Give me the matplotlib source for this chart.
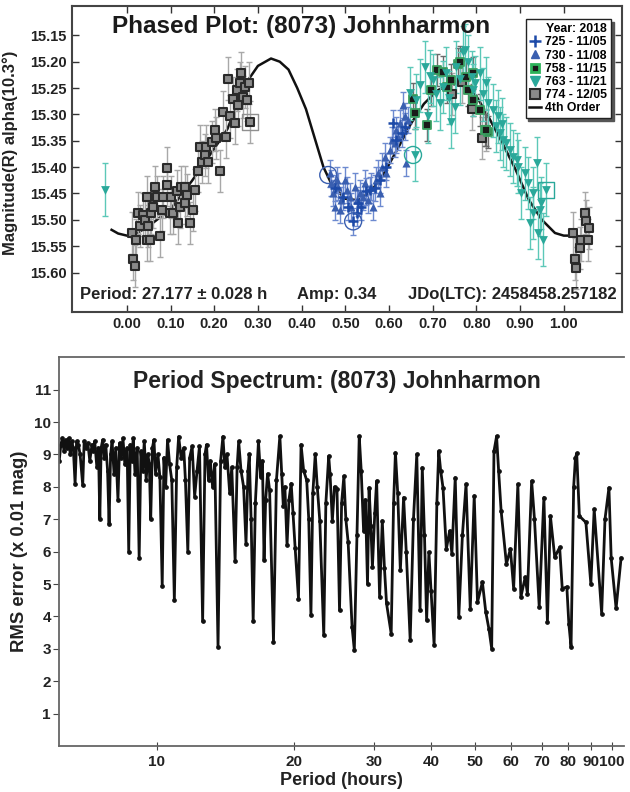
import numpy as np
import matplotlib
matplotlib.use('Agg')
import matplotlib.pyplot as plt
from matplotlib.lines import Line2D
from matplotlib.ticker import FixedLocator, NullLocator, FormatStrFormatter

plt.rcParams['font.family'] = ['Liberation Sans', 'DejaVu Sans']
plt.rcParams['font.weight'] = 'bold'

# ---- phased plot data (phase, magnitude) ----
ph_774 = [0.011, 0.015, 0.018, 0.022, 0.030, 0.026, 0.036, 0.041, 0.045, 0.053, 0.049, 0.056,
          0.060, 0.064, 0.045, 0.068, 0.076, 0.080, 0.083, 0.091, 0.091, 0.098, 0.102, 0.106,
          0.114, 0.118, 0.121, 0.125, 0.133, 0.133, 0.137, 0.144, 0.152, 0.156, 0.163, 0.167,
          0.171, 0.179, 0.182, 0.186, 0.194, 0.201, 0.205, 0.213, 0.220, 0.228, 0.236, 0.243,
          0.247, 0.251, 0.255, 0.259, 0.262, 0.266, 0.270, 0.274, 0.280, 0.282, 0.232,
          1.021, 1.025, 1.029, 1.037, 1.040, 1.048, 1.052, 1.059, 1.056,
          0.745, 0.768, 0.790, 0.812, 0.823]
mag_774 = [15.525, 15.575, 15.588, 15.538, 15.512, 15.487, 15.490, 15.500, 15.538, 15.538, 15.512, 15.487,
           15.475, 15.437, 15.456, 15.456, 15.531, 15.481, 15.456, 15.402, 15.434, 15.487, 15.456, 15.487,
           15.446, 15.506, 15.475, 15.437, 15.437, 15.468, 15.453, 15.506, 15.481, 15.443, 15.408, 15.361,
           15.390, 15.377, 15.361, 15.390, 15.352, 15.330, 15.345, 15.408, 15.295, 15.342, 15.304, 15.270,
           15.317, 15.254, 15.282, 15.241, 15.222, 15.267, 15.248, 15.273, 15.241, 15.314, 15.232,
           15.525, 15.575, 15.591, 15.553, 15.538, 15.487, 15.503, 15.515, 15.538,
           15.262, 15.238, 15.290, 15.345, 15.330]

ph_730 = [0.465, 0.468, 0.472, 0.476, 0.480, 0.484, 0.491, 0.487, 0.499, 0.503, 0.510, 0.514,
          0.522, 0.526, 0.533, 0.541, 0.545, 0.552, 0.560, 0.564, 0.571, 0.575, 0.579, 0.583,
          0.590, 0.594, 0.602, 0.606, 0.613, 0.617, 0.621, 0.625, 0.631, 0.636, 0.640, 0.644]
mag_730 = [15.412, 15.430, 15.449, 15.475, 15.424, 15.437, 15.462, 15.481, 15.424, 15.443, 15.456, 15.475,
           15.437, 15.462, 15.449, 15.456, 15.430, 15.462, 15.437, 15.475, 15.424, 15.412, 15.449, 15.399,
           15.380, 15.412, 15.367, 15.348, 15.355, 15.330, 15.342, 15.317, 15.282, 15.304, 15.392, 15.311]

ph_725 = [0.529, 0.537, 0.548, 0.556, 0.567, 0.579, 0.594, 0.609, 0.617, 0.629, 0.636,
          0.526, 0.506, 0.495, 0.476, 0.518]
mag_725 = [15.468, 15.475, 15.446, 15.443, 15.440, 15.424, 15.399, 15.317, 15.348, 15.336, 15.323,
           15.487, 15.475, 15.456, 15.440, 15.503]

ph_758 = [0.655, 0.659, 0.686, 0.709, 0.724, 0.732, 0.758, 0.762, 0.777, 0.781, 0.792, 0.808,
          0.819, 0.827, 0.792, 0.743, 0.697, 0.823]
mag_758 = [15.270, 15.298, 15.320, 15.216, 15.219, 15.248, 15.204, 15.200, 15.229, 15.254, 15.273, 15.292,
           15.330, 15.333, 15.222, 15.235, 15.254, 15.330]

ph_763 = [0.659, 0.682, 0.690, 0.716, 0.743, 0.751, 0.770, 0.773, 0.781, 0.792, 0.823, 0.827,
          0.850, 0.854, 0.869, 0.884, 0.895, 0.903, 0.922, 0.930, 0.938, 0.941, 0.949, 0.953,
          0.960, 0.648, 0.663, 0.701, 0.724, 0.754, 0.808, 0.789, 0.838, 0.876, 0.861, 0.911,
          0.945, 0.930, -0.050, 0.670, 0.694, 0.708, 0.730, 0.738, 0.762, 0.798, 0.815, 0.844,
          0.858, 0.892, 0.918]
mag_763 = [15.377, 15.210, 15.304, 15.279, 15.314, 15.286, 15.182, 15.178, 15.200, 15.254, 15.241, 15.279,
           15.304, 15.336, 15.355, 15.380, 15.399, 15.449, 15.506, 15.449, 15.393, 15.525, 15.468, 15.538,
           15.443, 15.260, 15.273, 15.235, 15.248, 15.210, 15.222, 15.229, 15.292, 15.367, 15.349, 15.412,
           15.481, 15.487, 15.443, 15.245, 15.228, 15.262, 15.222, 15.268, 15.232, 15.240, 15.262, 15.322,
           15.318, 15.386, 15.430]

err_774 = 0.040
err_730 = 0.025
err_725 = 0.025
err_758 = 0.030
err_763 = 0.050

circled_ph = [0.461, 0.518, 0.655]
circled_mag = [15.415, 15.503, 15.377]
circled_col = ['#3a5fb0', '#3a5fb0', '#2aa89a']
boxed_ph = [0.282, 0.960]
boxed_mag = [15.314, 15.443]
boxed_col = ['#909090', '#2aa89a']

# 4th order fit curve
fit_ph = [-0.035, -0.02, 0.00, 0.02, 0.05, 0.10, 0.15, 0.20, 0.23, 0.26, 0.28, 0.30, 0.33, 0.35,
          0.37, 0.39, 0.41, 0.43, 0.45, 0.47, 0.50, 0.53, 0.56, 0.59, 0.62, 0.65, 0.68, 0.71,
          0.74, 0.77, 0.80, 0.83, 0.86, 0.89, 0.92, 0.95, 0.98, 1.00, 1.03]
fit_mag = [15.519, 15.526, 15.530, 15.527, 15.512, 15.480, 15.425, 15.365, 15.328, 15.265, 15.232,
           15.208, 15.194, 15.200, 15.215, 15.250, 15.290, 15.345, 15.400, 15.435, 15.460, 15.463,
           15.445, 15.410, 15.365, 15.318, 15.280, 15.255, 15.242, 15.245, 15.265, 15.308, 15.355,
           15.405, 15.462, 15.500, 15.525, 15.530, 15.530]

# ---- period spectrum (hours, rms x0.01 mag) ----
period = [6.10, 6.15, 6.20, 6.25, 6.30, 6.35, 6.40, 6.45, 6.50, 6.55, 6.61, 6.66, 6.72, 6.78, 6.87,
          6.92, 7.00, 7.05, 7.12, 7.20, 7.25, 7.30, 7.38, 7.44, 7.49, 7.54, 7.60, 7.66, 7.72, 7.79,
          7.85, 7.91, 7.97, 8.05, 8.12, 8.21, 8.28, 8.35, 8.42, 8.50, 8.60, 8.67, 8.74, 8.80, 8.87,
          8.95, 9.05, 9.14, 9.22, 9.30, 9.38, 9.47, 9.55, 9.62, 9.69, 9.77, 9.85, 9.93, 10.05, 10.15,
          10.27, 10.36, 10.45, 10.55, 10.66, 10.78, 10.92, 11.05, 11.16, 11.30, 11.45, 11.55, 11.69,
          11.80, 11.95, 12.10, 12.25, 12.40, 12.60, 12.75, 12.85, 12.98, 13.10, 13.25, 13.40, 13.62,
          13.80, 13.96, 14.10, 14.25, 14.45, 14.60, 14.85, 15.00, 15.12, 15.30, 15.50, 15.69, 15.85,
          15.95, 16.10, 16.27, 16.45, 16.71, 16.90, 17.05, 17.19, 17.33, 17.50, 17.68, 18.03, 18.30,
          18.62, 18.80, 18.95, 19.10, 19.31, 19.50, 19.72, 19.90, 20.12, 20.46, 20.73, 21.00, 21.33,
          21.55, 21.79, 22.00, 22.27, 22.50, 22.79, 23.25, 23.50, 23.84, 24.00, 24.28, 24.55, 24.86,
          25.18, 25.45, 25.74, 26.00, 26.30, 26.83, 27.14, 27.50, 27.82, 28.10, 28.44, 28.70, 29.01,
          29.24, 29.50, 29.74, 30.10, 30.38, 30.84, 31.26, 31.60, 31.94, 32.70, 33.10, 33.41, 33.80,
          34.25, 34.82, 35.29, 36.00, 36.60, 37.22, 37.84, 38.27, 38.70, 39.12, 39.57, 40.00, 40.63,
          41.20, 41.59, 42.00, 42.50, 43.22, 43.95, 44.45, 45.21, 46.03, 46.88, 47.75, 48.78, 49.77,
          50.60, 51.87, 52.76, 53.63, 54.36, 55.00, 55.73, 56.30, 57.02, 58.57, 59.76, 60.75, 62.06,
          63.01, 64.40, 65.14, 66.54, 67.50, 69.14, 70.79, 72.07, 73.16, 74.78, 76.67, 77.68, 79.51,
          80.31, 81.22, 82.30, 83.04, 83.58, 84.71, 87.56, 89.77, 91.30, 94.82, 96.43, 98.37, 99.50,
          102.0, 104.6]
rms = [8.8, 9.3, 9.5, 9.1, 9.45, 9.2, 9.5, 9.0, 9.4, 9.2, 8.1, 9.4, 9.3, 9.0, 8.05,
       9.4, 9.2, 9.35, 8.8, 9.3, 9.1, 9.4, 8.6, 9.2, 7.0, 9.2, 9.45, 8.9, 9.3, 8.5,
       6.85, 9.0, 9.4, 8.4, 9.2, 7.6, 9.35, 8.9, 9.5, 8.7, 9.2, 6.0, 9.3, 8.8, 9.5,
       8.4, 9.2, 5.8, 9.1, 8.5, 9.4, 8.2, 9.0, 8.7, 7.0, 9.2, 9.45, 8.4, 9.0, 8.3,
       4.95, 8.9, 8.0, 9.45, 8.7, 8.2, 4.5, 8.6, 9.55, 8.9, 9.2, 8.2, 6.0,
       8.9, 9.25, 7.7, 8.5, 9.25, 3.85, 9.0, 9.3, 8.2, 8.8, 8.0, 8.7, 3.07,
       8.8, 9.55, 8.6, 9.0, 7.8, 8.6, 5.72, 8.6, 9.4, 8.5, 8.0, 6.25, 8.5,
       9.0, 7.0, 3.86, 7.5, 9.4, 8.3, 8.8, 5.75, 7.6, 8.4, 7.9, 3.22, 8.2,
       9.56, 8.4, 7.4, 8.0, 6.2, 7.6, 8.1, 7.2, 6.1, 4.55, 9.3, 8.5, 8.2,
       7.0, 4.04, 7.8, 9.0, 8.0, 6.95, 3.42, 7.5, 8.95, 8.4, 6.95, 8.0, 7.92,
       4.19, 7.5, 8.33, 7.0, 6.3, 3.68, 2.96, 6.5, 9.56, 8.5, 6.64, 7.6, 5.0,
       7.97, 6.8, 5.52, 7.2, 8.18, 4.6, 6.95, 5.5, 4.4, 3.47, 7.5, 9.05, 7.8,
       5.42, 7.67, 6.0, 3.27, 7.0, 9.0, 4.19, 8.59, 6.5, 3.88, 5.98, 4.8, 3.12,
       7.5, 9.1, 8.5, 7.97, 6.08, 6.64, 5.93, 8.28, 3.98, 6.5, 8.08, 4.24, 7.72,
       4.44, 5.06, 4.14, 3.6, 3.01, 9.1, 9.56, 8.5, 7.26, 5.62, 6.08, 4.86, 8.08,
       4.6, 5.21, 4.70, 8.18, 7.0, 4.29, 7.67, 3.83, 7.1, 5.83, 6.13, 4.86, 4.91,
       3.78, 3.06, 8.0, 8.89, 9.03, 7.1, 6.9, 5.0, 7.31, 4.09, 7.0, 7.97, 5.8,
       4.25, 5.8]

fig = plt.figure(figsize=(6.3, 7.92), dpi=100)

# ================= phased plot =================
ax1 = fig.add_axes([0.114, 0.606, 0.873, 0.386])
ax1.plot(fit_ph, fit_mag, color='#111111', lw=1.8, zorder=2)

ax1.errorbar(ph_774, mag_774, yerr=err_774, fmt='none', ecolor='#a8a8a8', elinewidth=1, capsize=2.5, zorder=3)
ax1.scatter(ph_774, mag_774, marker='s', s=34, c='#8a8a8a', edgecolors='#2a2a2a', linewidths=1.5, zorder=4)

ax1.errorbar(ph_730 + ph_725, mag_730 + mag_725, yerr=err_730, fmt='none', ecolor='#6d8ad0',
             elinewidth=1, capsize=2.5, zorder=3)
ax1.scatter(ph_730, mag_730, marker='^', s=34, c='#3a5fb0', linewidths=0, zorder=5)
ax1.scatter(ph_725, mag_725, marker='+', s=55, c='#1d4aa8', linewidths=1.8, zorder=5)

ax1.errorbar(ph_758, mag_758, yerr=err_758, fmt='none', ecolor='#6a6a6a', elinewidth=1, capsize=2.5, zorder=3)
ax1.scatter(ph_758, mag_758, marker='s', s=26, c='#1a1a1a', edgecolors='#3aa060', linewidths=1.3, zorder=5)

ax1.errorbar(ph_763, mag_763, yerr=err_763, fmt='none', ecolor='#5cc8b8', elinewidth=1, capsize=2.5, zorder=3)
ax1.scatter(ph_763, mag_763, marker='v', s=40, c='#2aa89a', linewidths=0, zorder=6)

ax1.scatter(circled_ph, circled_mag, marker='o', s=150, facecolors='none', edgecolors=circled_col,
            linewidths=1, zorder=6)
ax1.scatter(boxed_ph, boxed_mag, marker='s', s=130, facecolors='none', edgecolors=boxed_col,
            linewidths=1, zorder=6)

ax1.set_xlim(-0.126, 1.133)
ax1.set_ylim(15.675, 15.095)
ax1.set_xticks(np.arange(0, 1.001, 0.1))
ax1.set_yticks(np.arange(15.15, 15.601, 0.05))
ax1.xaxis.set_major_formatter(FormatStrFormatter('%.2f'))
ax1.yaxis.set_major_formatter(FormatStrFormatter('%.2f'))
ax1.tick_params(direction='in', length=5, width=1, top=True, right=True, labelsize=10.5,
                colors='#333333', labelcolor='#222222')
for sp in ax1.spines.values():
    sp.set_color('#444444')
    sp.set_linewidth(1.5)
ax1.set_ylabel('Magnitude(R) alpha(10.3°)', fontsize=12, fontweight='bold', color='#222222', labelpad=2)
ax1.yaxis.set_label_coords(-0.098, 0.52)

ax1.text(0.416, 0.935, 'Phased Plot: (8073) Johnharmon', transform=ax1.transAxes, ha='center', va='center',
         fontsize=17.5, fontweight='bold', color='#1a1a1a')
ax1.text(0.015, 0.056, 'Period: 27.177 ± 0.028 h', transform=ax1.transAxes, ha='left', va='center',
         fontsize=12, fontweight='bold', color='#222222')
ax1.text(0.409, 0.056, 'Amp: 0.34', transform=ax1.transAxes, ha='left', va='center',
         fontsize=12, fontweight='bold', color='#222222')
ax1.text(0.991, 0.056, 'JDo(LTC): 2458458.257182', transform=ax1.transAxes, ha='right', va='center',
         fontsize=12, fontweight='bold', color='#222222')

handles = [
    Line2D([], [], marker='+', ls='none', color='#1d4aa8', ms=8, mew=1.8),
    Line2D([], [], marker='^', ls='none', color='#3a5fb0', ms=6),
    Line2D([], [], marker='s', ls='none', mfc='#1a1a1a', mec='#2db35a', ms=6, mew=2),
    Line2D([], [], marker='v', ls='none', color='#2aa89a', ms=6.5),
    Line2D([], [], marker='s', ls='none', mfc='#8a8a8a', mec='#2a2a2a', ms=6.5, mew=1.5),
    Line2D([], [], color='#111111', lw=1.8),
]
labels = ['725 - 11/05', '730 - 11/08', '758 - 11/15', '763 - 11/21', '774 - 12/05', '4th Order']
leg = ax1.legend(handles, labels, title='Year: 2018', loc='upper right', bbox_to_anchor=(0.98, 0.957),
                 frameon=True, fancybox=False, shadow={'color': '#555555', 'alpha': 1},
                 fontsize=8.8, title_fontproperties={'weight': 'bold', 'size': 8.8},
                 handlelength=1.0, handletextpad=0.3, labelspacing=0.1, borderpad=0.3,
                 borderaxespad=0)
leg._legend_box.align = 'right'
leg.get_frame().set_edgecolor('#222222')
leg.get_frame().set_linewidth(1)
leg.set_zorder(10)

# ================= period spectrum =================
ax2 = fig.add_axes([0.094, 0.058, 0.896, 0.491])
ax2.plot(period, rms, color='#111111', lw=2.0, marker='o', ms=2.4)
ax2.set_xscale('log')
ax2.set_xlim(6.1, 106)
ax2.set_ylim(0, 12)
ax2.xaxis.set_major_locator(FixedLocator([10, 20, 30, 40, 50, 60, 70, 80, 90, 100]))
ax2.xaxis.set_minor_locator(NullLocator())
ax2.set_xticklabels(['10', '20', '30', '40', '50', '60', '70', '80', '90', '100'])
ax2.set_yticks(range(1, 12))
ax2.tick_params(axis='y', direction='out', length=4, pad=2, labelsize=11, colors='#444444', labelcolor='#222222')
ax2.tick_params(axis='x', direction='inout', length=6, labelsize=11, colors='#444444', labelcolor='#222222')
for sp in ax2.spines.values():
    sp.set_color('#666666')
    sp.set_linewidth(1.3)
ax2.spines['right'].set_visible(False)
ax2.set_xlabel('Period (hours)', fontsize=13, fontweight='bold', color='#222222', labelpad=2)
ax2.set_ylabel('RMS error (x 0.01 mag)', fontsize=13.3, fontweight='bold', color='#222222', labelpad=4)
ax2.text(0.492, 0.938, 'Period Spectrum: (8073) Johnharmon', transform=ax2.transAxes, ha='center',
         va='center', fontsize=16.5, fontweight='bold', color='#222222')

fig.savefig('out.png', dpi=100)
